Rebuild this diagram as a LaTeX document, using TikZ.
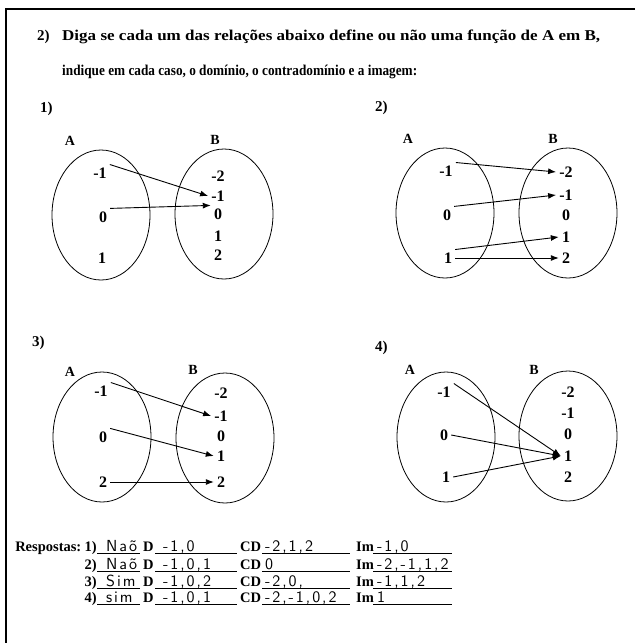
\documentclass[tikz,border=0pt]{standalone}
\usepackage{fontspec}
\usepackage{graphicx}
\setmainfont{Liberation Serif}
\newfontfamily\handfont{lmsans10-regular.otf}[LetterSpace=12]
\usetikzlibrary{positioning, shapes.geometric, arrows.meta}

\begin{document}
\begin{tikzpicture}[
    x=1pt, y=-1pt,
    frame/.style={
        line width=1.5pt,
    },
    title/.style={
        anchor=west,
        inner sep=0pt,
        font=\fontsize{15}{17}\selectfont\bfseries,
    },
    setlabel/.style={
        inner sep=0pt,
        font=\fontsize{14}{16}\selectfont\bfseries,
    },
    elem/.style={
        inner sep=3pt,
        font=\fontsize{16}{18}\selectfont\bfseries,
    },
    setbox/.style={
        draw,
        ellipse,
        line width=0.8pt,
        minimum width=98pt,
        minimum height=130pt,
        inner sep=0pt,
    },
    map/.style={
        -{Latex[length=8pt, width=6pt]},
        line width=0.9pt,
    },
    answer/.style={
        anchor=base west,
        inner sep=0pt,
        font=\fontsize{14.5}{16}\selectfont\bfseries,
    },
    blank/.style={
        anchor=base west,
        inner xsep=0pt,
        inner ysep=2pt,
        text height=11pt,
        text depth=0pt,
        align=left,
        font=\fontsize{16}{18}\selectfont\handfont,
    },
]

    \useasboundingbox (0,0) rectangle (635,643);
    \draw[frame] (635,9) -- (6,9) -- (6,643);

    % question
    \node[title] (qnum) at (37,37) {2)};
    \node[title] (qline1) at (62,37) {\resizebox{538pt}{\height}{Diga se cada um das relações abaixo define ou não uma função de A em B,}};
    \node[title] (qline2) at (62,72) {\resizebox{355pt}{\height}{indique em cada caso, o domínio, o contradomínio e a imagem:}};

    % relation 1
    \node[title] (n1) at (40,109) {1)};
    \node[setlabel] (p1la) at (70,141) {A};
    \node[setlabel] (p1lb) at (215,140) {B};
    \node[setbox] (p1A) at (101,215) {};
    \node[setbox] (p1B) at (224,214) {};
    \node[elem] (p1a1) at (100,173) {-1};
    \node[elem] (p1a2) at (103,217) {0};
    \node[elem] (p1a3) at (102,258) {1};
    \node[elem] (p1b1) at (218,176) {-2};
    \node[elem] (p1b2) at (218,196) {-1};
    \node[elem] (p1b3) at (218,214) {0};
    \node[elem] (p1b4) at (218,236) {1};
    \node[elem] (p1b5) at (218,255) {2};
    \draw[map] (p1a1.north east) -- (p1b2.west);
    \draw[map] (p1a2.north east) -- (p1b3.north west);

    % relation 2
    \node[title] (n2) at (375,108) {2)};
    \node[setlabel] (p2la) at (408,139) {A};
    \node[setlabel] (p2lb) at (553,139) {B};
    \node[setbox] (p2A) at (445,213) {};
    \node[setbox] (p2B) at (568,213) {};
    \node[elem] (p2a1) at (446,171) {-1};
    \node[elem] (p2a2) at (447,215) {0};
    \node[elem] (p2a3) at (448,258) {1};
    \node[elem] (p2b1) at (566,172) {-2};
    \node[elem] (p2b2) at (566,195) {-1};
    \node[elem] (p2b3) at (566,215) {0};
    \node[elem] (p2b4) at (566,237) {1};
    \node[elem] (p2b5) at (566,258) {2};
    \draw[map] (p2a1.north east) -- (p2b1.west);
    \draw[map] (p2a2.north east) -- (p2b2.west);
    \draw[map] (p2a3.north east) -- (p2b4.west);
    \draw[map] (p2a3.east) -- (p2b5.west);

    % relation 3
    \node[title] (n3) at (32,343) {3)};
    \node[setlabel] (p3la) at (70,372) {A};
    \node[setlabel] (p3lb) at (193,370) {B};
    \node[setbox] (p3A) at (102,437) {};
    \node[setbox] (p3B) at (225,438) {};
    \node[elem] (p3a1) at (101,391) {-1};
    \node[elem] (p3a2) at (103,437) {0};
    \node[elem] (p3a3) at (103,482) {2};
    \node[elem] (p3b1) at (221,393) {-2};
    \node[elem] (p3b2) at (221,416) {-1};
    \node[elem] (p3b3) at (221,436) {0};
    \node[elem] (p3b4) at (221,456) {1};
    \node[elem] (p3b5) at (221,482) {2};
    \draw[map] (p3a1.north east) -- (p3b2.west);
    \draw[map] (p3a2.north east) -- (p3b4.west);
    \draw[map] (p3a3.east) -- (p3b5.west);

    % relation 4
    \node[title] (n4) at (375,348) {4)};
    \node[setlabel] (p4la) at (410,370) {A};
    \node[setlabel] (p4lb) at (534,370) {B};
    \node[setbox] (p4A) at (446,437) {};
    \node[setbox] (p4B) at (568,436) {};
    \node[elem] (p4a1) at (444,392) {-1};
    \node[elem] (p4a2) at (444,435) {0};
    \node[elem] (p4a3) at (446,477) {1};
    \node[elem] (p4b1) at (568,392) {-2};
    \node[elem] (p4b2) at (568,413) {-1};
    \node[elem] (p4b3) at (568,434) {0};
    \node[elem] (p4b4) at (568,456) {1};
    \node[elem] (p4b5) at (568,477) {2};
    \draw[map] (p4a1.north east) -- (p4b4.west);
    \draw[map] (p4a2.east) -- (p4b4.west);
    \draw[map] (p4a3.east) -- (p4b4.west);

    % answers
    \foreach \r/\y/\ans/\dom/\cod/\img in {
        1/551/{Naõ}/{-1,0}/{-2,1,2}/{-1,0},
        2/569/{Naõ}/{-1,0,1}/{0}/{-2,-1,1,2},
        3/586/{Sim}/{-1,0,2}/{-2,0,}/{-1,1,2},
        4/602/{sim}/{-1,0,1}/{-2,-1,0,2}/{1}}
    {
        \node[answer, anchor=base east] (num\r) at (97,\y) {\r)};
        \node[blank, text width=43pt] (ans\r) at (97,\y) {\hspace*{9pt}\ans};
        \node[answer] (dl\r) at (143,\y) {D};
        \node[blank, text width=82pt] (dom\r) at (155,\y) {\hspace*{8pt}\dom};
        \node[answer] (cdl\r) at (240,\y) {CD};
        \node[blank, text width=88pt] (cod\r) at (262,\y) {\hspace*{3pt}\cod};
        \node[answer] (iml\r) at (356,\y) {Im};
        \node[blank, text width=79pt] (img\r) at (373,\y) {\hspace*{4pt}\img};
        \draw (ans\r.south west) -- (ans\r.south east);
        \draw (dom\r.south west) -- (dom\r.south east);
        \draw (cod\r.south west) -- (cod\r.south east);
        \draw (img\r.south west) -- (img\r.south east);
    }
    \node[answer, anchor=base east] (resp) at ([xshift=-3pt]num1.base west) {Respostas:};

\end{tikzpicture}
\end{document}
